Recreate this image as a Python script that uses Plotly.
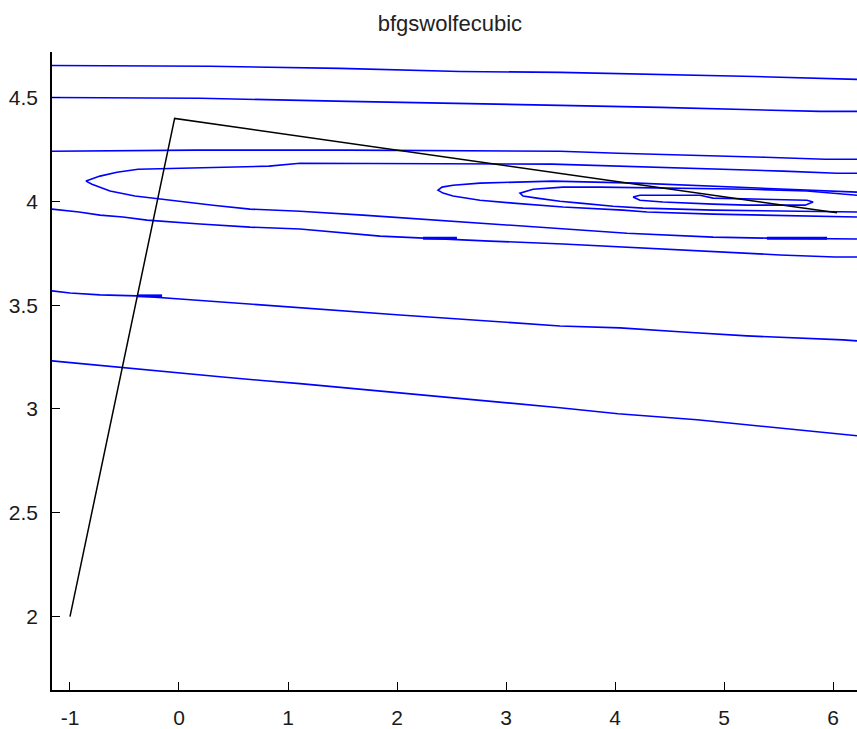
import plotly.graph_objects as go

# Contour levels of the objective, traced as polylines (x, y)
level_1_x = [-1.165, 0.284, 1.477, 2.578, 3.495, 4.413, 5.284, 6.22]
level_1_y = [4.655, 4.651, 4.641, 4.626, 4.622, 4.612, 4.602, 4.588]

level_2_x = [-1.165, 0.193, 1.55, 2.578, 3.495, 4.413, 5.147, 5.881, 6.22]
level_2_y = [4.501, 4.497, 4.482, 4.473, 4.463, 4.453, 4.444, 4.434, 4.434]

level_3_x = [-1.165, 0.15, 1.55, 3.495, 4.028, 4.75, 5.376, 5.927, 6.22]
level_3_y = [4.242, 4.247, 4.247, 4.242, 4.232, 4.223, 4.213, 4.203, 4.203]

level_4_x = [6.22, 6.037, 5.541, 4.991, 4.339, 3.422, 1.110, 0.826, -0.376, -0.569,
             -0.725, -0.817, -0.853, -0.798, -0.633, -0.404, -0.174, 0.312, 0.651,
             1.110, 1.688, 2.211, 2.761, 3.385, 4.110, 4.899, 5.394, 6.22]
level_4_y = [4.136, 4.136, 4.146, 4.155, 4.165, 4.180, 4.184, 4.170, 4.155, 4.141,
             4.122, 4.107, 4.098, 4.083, 4.050, 4.026, 4.011, 3.982, 3.963,
             3.953, 3.934, 3.915, 3.896, 3.870, 3.847, 3.828, 3.823, 3.819]

level_5_x = [6.22, 5.789, 5.394, 4.862, 4.202, 3.431, 2.761, 2.514, 2.413, 2.376,
             2.422, 2.514, 2.761, 3.064, 3.523, 4.073, 4.294, 4.899, 6.22]
level_5_y = [4.045, 4.054, 4.064, 4.074, 4.088, 4.098, 4.088, 4.078, 4.069, 4.054,
             4.040, 4.026, 4.006, 3.992, 3.973, 3.958, 3.949, 3.939, 3.925]

level_6_x = [6.22, 5.761, 5.239, 4.661, 3.862, 3.523, 3.248, 3.128,
             3.156, 3.284, 3.495, 3.679, 3.982, 4.257, 4.899, 6.22]
level_6_y = [4.030, 4.050, 4.059, 4.064, 4.069, 4.069, 4.059, 4.040,
             4.026, 4.016, 4.001, 3.992, 3.977, 3.968, 3.958, 3.949]

level_7_x = [4.165, 4.229, 4.780, 4.899, 5.761, 5.817, 5.743, 5.211, 4.899, 4.440, 4.229, 4.165]
level_7_y = [4.021, 4.030, 4.030, 4.016, 4.006, 3.997, 3.982, 3.982, 3.987, 3.997, 4.006, 4.021]

level_8_x = [-1.165, -0.917, -0.725, -0.514, -0.294, -0.083, 0.193, 0.651, 1.110,
             1.844, 2.239, 2.853, 3.523, 4.257, 4.899, 5.514, 6.018, 6.22]
level_8_y = [3.963, 3.949, 3.934, 3.925, 3.910, 3.901, 3.891, 3.876, 3.867,
             3.833, 3.823, 3.809, 3.795, 3.775, 3.761, 3.742, 3.732, 3.732]

level_9_x = [-1.165, -1.0, -0.725, -0.385, 0.009, 0.495, 1.110, 2.028, 3.495,
             4.046, 4.624, 5.211, 6.092, 6.22]
level_9_y = [3.569, 3.559, 3.550, 3.545, 3.530, 3.511, 3.487, 3.453, 3.400,
             3.391, 3.371, 3.352, 3.333, 3.328]

level_10_x = [-1.165, -0.798, -0.404, -0.009, 0.376, 0.789, 1.110, 3.495, 4.028,
              4.752, 5.303, 5.835, 6.22]
level_10_y = [3.232, 3.213, 3.194, 3.174, 3.155, 3.136, 3.122, 3.006, 2.977,
              2.948, 2.920, 2.891, 2.871]

contour_x = [level_1_x, level_2_x, level_3_x, level_4_x, level_5_x, level_6_x,
             level_7_x, level_8_x, level_9_x, level_10_x]
contour_y = [level_1_y, level_2_y, level_3_y, level_4_y, level_5_y, level_6_y,
             level_7_y, level_8_y, level_9_y, level_10_y]

# Short overlapping contour pieces that show up as heavier dashes
overlap_x = [[-0.385, -0.155], [2.239, 2.55], [5.394, 5.945]]
overlap_y = [[3.545, 3.545], [3.823, 3.823], [3.823, 3.823]]

# BFGS iterates (Wolfe line search, cubic interpolation)
path_x = [-1.0, -0.04, 6.037]
path_y = [2.0, 4.40, 3.945]

# Axis ticks
x_ticks = [-1, 0, 1, 2, 3, 4, 5, 6]
x_tick_labels = ["-1", "0", "1", "2", "3", "4", "5", "6"]
y_ticks = [2, 2.5, 3, 3.5, 4, 4.5]
y_tick_labels = ["2", "2.5", "3", "3.5", "4", "4.5"]

fig = go.Figure()

for cx, cy in zip(contour_x, contour_y):
    fig.add_trace(go.Scatter(x=cx, y=cy, mode="lines",
                             line=dict(color="#0000FF", width=1.6),
                             hoverinfo="skip", showlegend=False))

for ox, oy in zip(overlap_x, overlap_y):
    fig.add_trace(go.Scatter(x=ox, y=oy, mode="lines",
                             line=dict(color="#0000FF", width=3),
                             hoverinfo="skip", showlegend=False))

fig.add_trace(go.Scatter(x=path_x, y=path_y, mode="lines",
                         line=dict(color="#000000", width=1.5),
                         showlegend=False))

axis_font = dict(family="Liberation Sans, Arial, sans-serif", size=21, color="#1a1a1a")

fig.update_layout(
    width=857, height=729,
    margin=dict(l=52, r=0, t=52, b=37),
    paper_bgcolor="white", plot_bgcolor="white",
    title=dict(text="bfgswolfecubic", x=0.525, xanchor="center", y=0.968, yanchor="middle",
               font=dict(family="Liberation Sans, Arial, sans-serif", size=22, color="#222222")),
    xaxis=dict(range=[-1.165, 6.22], tickvals=x_ticks, ticktext=x_tick_labels,
               ticks="inside", ticklen=8, tickcolor="black", tickwidth=1,
               showline=True, linecolor="black", linewidth=1.5, mirror=False,
               showgrid=False, zeroline=False, tickfont=axis_font,
               ticklabelstandoff=8),
    yaxis=dict(range=[1.646, 4.72], tickvals=y_ticks, ticktext=y_tick_labels,
               ticks="inside", ticklen=8, tickcolor="black", tickwidth=1,
               showline=True, linecolor="black", linewidth=1.5, mirror=False,
               showgrid=False, zeroline=False, tickfont=axis_font,
               ticklabelstandoff=8),
)

fig.write_html("out.html")
